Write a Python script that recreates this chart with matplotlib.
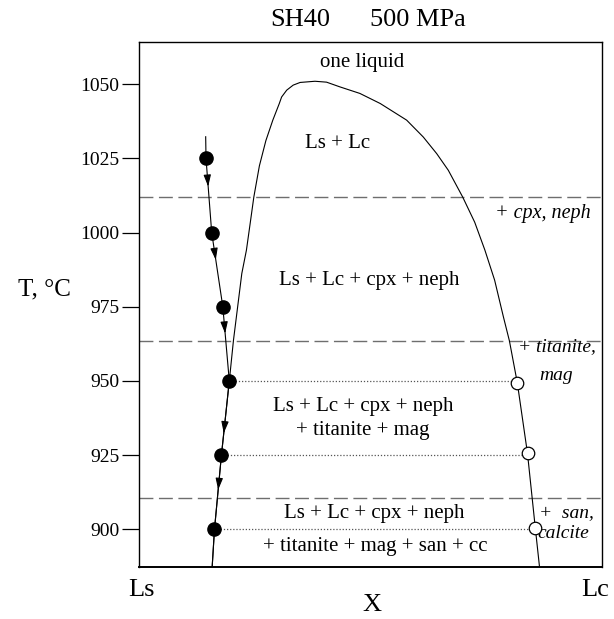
import numpy as np
import matplotlib
matplotlib.use("Agg")
import matplotlib.pyplot as plt

plt.rcParams['font.family'] = ['Liberation Serif', 'DejaVu Serif']

# solvus (X fraction Ls->Lc, T in C)
solvus_x = [0.158, 0.163, 0.178, 0.195, 0.204, 0.222, 0.232, 0.240, 0.248, 0.260,
            0.274, 0.289, 0.303, 0.308, 0.319, 0.333, 0.348, 0.38, 0.405, 0.434,
            0.477, 0.521, 0.578, 0.614, 0.643, 0.668, 0.699, 0.725, 0.747, 0.768,
            0.787, 0.800, 0.817, 0.839, 0.856, 0.865]
solvus_T = [887.3, 900, 925, 950, 963.7, 986.2, 994.1, 1003, 1012, 1022.5,
            1031, 1037.9, 1043.5, 1045.7, 1048, 1049.7, 1050.6, 1051.0, 1050.7, 1049.1,
            1046.9, 1043.5, 1037.9, 1032.2, 1026.6, 1021, 1012, 1003.5, 994.1, 984,
            971.6, 963.5, 949.4, 925.6, 900.3, 887.3]

# liquid path of Ls (experiment temperatures)
path_x = [0.144, 0.1447, 0.157, 0.181, 0.195, 0.178, 0.163, 0.158]
path_T = [1032.3, 1025, 1000, 975, 950, 925, 900, 887.3]
arrow_T = [1015.5, 990.8, 966.0, 932.4, 913.3]

# run temperatures: filled = Ls, open = Lc
ls_x = [0.1447, 0.157, 0.181, 0.195, 0.178, 0.163]
ls_T = [1025, 1000, 975, 950, 925, 900]
lc_x = [0.817, 0.840, 0.855]
lc_T = [949.4, 925.6, 900.3]
tie_T = [950, 925, 900]

boundary_T = [1012, 963.5, 910.5]
yticks = [900, 925, 950, 975, 1000, 1025, 1050]

fig = plt.figure(figsize=(6.14, 6.19), dpi=100)
ax = fig.add_axes([0.2264, 0.084, 0.7541, 0.848])
ax.set_xlim(0, 1)
ax.set_ylim(887.3, 1064.2)

for t in boundary_T:
    ax.axhline(t, color='#6e6e6e', lw=1.0, dashes=(10, 4), zorder=1)

for xs, xl, t in zip(ls_x[3:], lc_x, tie_T):
    ax.plot([xs, xl], [t, t], color='#555555', lw=0.9, dashes=(1, 1.5), zorder=1)

ax.plot(solvus_x, solvus_T, color='black', lw=0.8, zorder=2)
ax.plot(path_x, path_T, color='black', lw=0.8, zorder=2)

# arrowheads along the path (path is ordered by falling T)
px = np.array(path_x)[::-1]
pT = np.array(path_T)[::-1]
for t in arrow_T:
    x_tip = np.interp(t, pT, px)
    x_tail = np.interp(t + 3.5, pT, px)
    ax.annotate('', xy=(x_tip, t), xytext=(x_tail, t + 3.5),
                arrowprops=dict(arrowstyle='-|>,head_length=0.7,head_width=0.22',
                                color='black', lw=0.8, shrinkA=0, shrinkB=0),
                zorder=3)

ax.plot(ls_x, ls_T, 'o', color='black', ms=9.5, zorder=4)
ax.plot(lc_x, lc_T, 'o', mfc='white', mec='black', mew=0.9, ms=9, zorder=4)

fs = 15
ax.text(0.482, 1057.2, 'one liquid', ha='center', va='center', fontsize=fs)
ax.text(0.429, 1030, 'Ls + Lc', ha='center', va='center', fontsize=fs)
ax.text(0.873, 1006.4, '+ cpx, neph', ha='center', va='center', fontsize=fs - 0.5, style='italic')
ax.text(0.497, 984, 'Ls + Lc + cpx + neph', ha='center', va='center', fontsize=fs)
ax.text(0.484, 941.3, 'Ls + Lc + cpx + neph', ha='center', va='center', fontsize=fs)
ax.text(0.484, 933.4, '+ titanite + mag', ha='center', va='center', fontsize=fs)
ax.text(0.818, 961.5, '+ titanite,', ha='left', va='center', fontsize=fs - 1, style='italic')
ax.text(0.90, 952, 'mag', ha='center', va='center', fontsize=fs - 1, style='italic')
ax.text(0.508, 905.4, 'Ls + Lc + cpx + neph', ha='center', va='center', fontsize=fs)
ax.text(0.51, 894.1, '+ titanite + mag + san + cc', ha='center', va='center', fontsize=fs)
ax.text(0.923, 905.4, '+  san,', ha='center', va='center', fontsize=fs - 1, style='italic')
ax.text(0.916, 898.6, 'calcite', ha='center', va='center', fontsize=fs - 1, style='italic')

ax.set_yticks(yticks)
ax.set_xticks([])
ax.tick_params(axis='y', direction='out', length=12, width=0.9, pad=2, labelsize=14)
for s in ax.spines.values():
    s.set_linewidth(1.0)
ax.spines['bottom'].set_linewidth(1.4)

fig.text(0.489, 0.968, 'SH40', ha='center', va='center', fontsize=19)
fig.text(0.681, 0.968, '500 MPa', ha='center', va='center', fontsize=19)
fig.text(0.0717, 0.533, 'T, °C', ha='center', va='center', fontsize=18)
fig.text(0.2296, 0.047, 'Ls', ha='center', va='center', fontsize=19)
fig.text(0.969, 0.047, 'Lc', ha='center', va='center', fontsize=19)
fig.text(0.606, 0.0226, 'X', ha='center', va='center', fontsize=19)

fig.savefig('out.png', dpi=100)
